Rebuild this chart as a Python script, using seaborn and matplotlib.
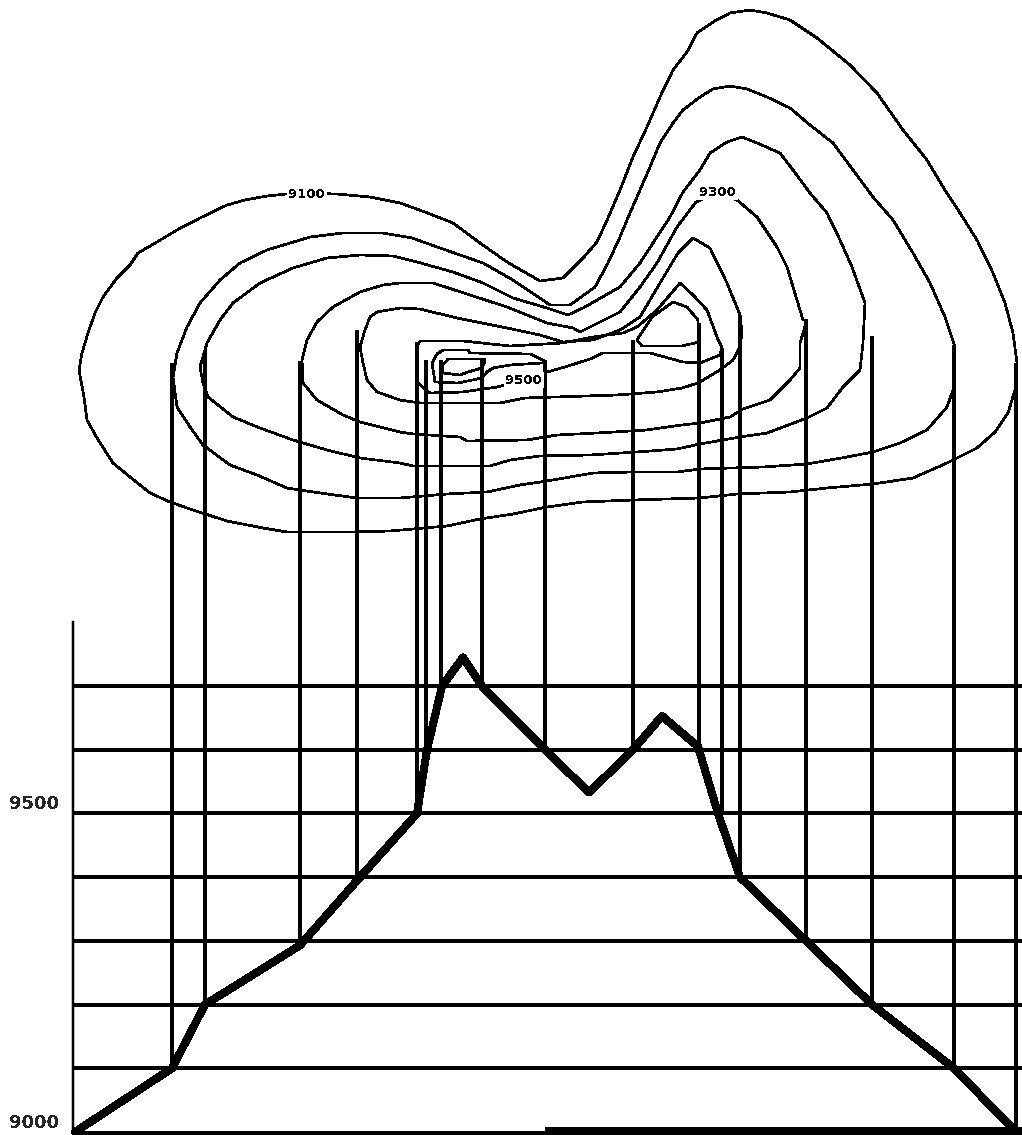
import matplotlib
matplotlib.use("Agg")
import matplotlib.pyplot as plt
import seaborn as sns

# Map-view contours (distance along section, map position)
c9000_x = [296,267,245,227,200,177,157,138,130,117,103,95,88,82,79,84,87,97,113,130,150,170,193,227,263,287,353,390,413,447,480,513,547,583,633,700,737,790,827,873,913,947,977,995,1008,1015,1017,1013,1005,993,977,960,943,927,903,877,850,817,790,767,750,730,713,697,687,673,660,647,633,620,608,597,583,563,540,507,480,453,425,400,370,337,296]
c9000_y = [193,196,200,205,218,230,242,253,265,278,297,313,333,353,370,397,420,438,463,477,493,502,510,521,528,532,532,531,529,526,519,514,507,502,500,498,494,492,488,484,478,463,448,432,413,390,363,333,303,273,240,213,187,160,130,93,65,38,20,13,10,13,22,33,52,70,97,127,157,190,218,242,258,278,281,262,243,223,212,203,197,194,193]
c9100_x = [383,343,310,267,240,220,200,187,177,173,177,190,203,230,257,287,320,357,400,447,487,520,547,593,633,677,700,763,807,847,873,900,927,947,953,955,945,930,913,893,873,853,833,810,790,767,747,730,713,700,683,673,660,650,640,630,620,608,595,577,570,550,547,513,483,440,412,383]
c9100_y = [233,233,237,250,263,280,303,327,353,377,407,427,445,465,475,488,493,498,498,494,492,485,481,473,472,472,469,467,464,457,452,443,430,407,390,347,317,283,253,220,197,170,143,125,108,97,89,86,89,97,110,123,143,167,190,213,237,263,287,300,305,305,303,280,263,248,238,233]
c9200_x = [393,360,327,293,260,233,220,207,200,203,208,233,260,293,327,360,400,413,490,510,540,590,637,677,700,740,767,807,827,843,860,863,865,852,840,827,810,793,780,757,742,727,710,700,683,670,653,640,620,583,568,547,513,483,453,417,393]
c9200_y = [256,255,258,268,283,303,320,343,367,383,397,417,428,440,450,458,463,466,466,460,456,455,452,449,444,437,433,418,408,387,370,343,303,267,240,213,193,170,153,143,137,142,153,170,192,217,243,263,287,308,315,308,298,283,272,262,256]
c9300_x = [400,383,360,333,317,307,302,303,317,343,360,400,413,460,467,527,557,597,647,682,700,730,743,770,790,800,800,807,803,797,787,777,757,737,718,696,677,657,640,620,580,573,547,507,470,433,400]
c9300_y = [283,285,292,307,322,340,360,383,400,415,422,432,434,437,441,440,435,433,430,425,423,417,409,400,380,368,343,320,320,300,267,247,217,200,192,202,227,263,287,312,332,328,323,307,295,283,283]
c9400_x = [400,377,370,365,360,363,367,377,400,420,500,525,617,657,682,698,720,733,740,742,740,727,710,693,678,660,640,620,593,563,540,507,457,420,400]
c9400_y = [308,312,317,330,347,363,380,392,400,403,403,398,395,392,388,383,370,360,347,333,315,283,248,238,253,283,317,330,340,342,335,328,318,309,308]
c9500_x = [418,420,463,510,562,593,623,637,657,680,693,707,717,722,720,700,683,650,603,590,565,547,524,497,463,430,418,417,418]
c9500_y = [345,341,341,346,343,337,333,327,310,283,295,310,337,348,355,363,362,353,353,359,367,372,380,387,392,393,383,360,345]
c9600a_x = [432,437,443,468,470,530,543,545,542,510,493,487,482,458,435,432]
c9600a_y = [363,354,350,350,353,354,360,363,363,365,368,372,378,383,382,363]
c9600b_x = [673,687,698,699,682,642,637,652,673]
c9600b_y = [302,307,320,342,346,346,340,317,302]
c9700_x = [442,448,485,485,482,468,460,443,442]
c9700_y = [366,359,359,362,368,372,375,373,366]
contours = [(c9000_x,c9000_y),(c9100_x,c9100_y),(c9200_x,c9200_y),(c9300_x,c9300_y),
            (c9400_x,c9400_y),(c9500_x,c9500_y),(c9600a_x,c9600a_y),(c9600b_x,c9600b_y),(c9700_x,c9700_y)]

# Construction lines: position, top on the map, elevation reached on the profile
drop_x    = [172,205,300,357,417,426,441,482,545,633,699,722,740,806,872,954,1016]
drop_top  = [363,350,361,330,342,360,360,360,360,340,323,348,315,320,336,345,363]
drop_elev = [9100,9200,9300,9400,9500,9600,9700,9700,9600,9600,9600,9500,9400,9300,9200,9100,9000]

# Profile
profile_x = [75,172,205,300,360,417,427,442,463,482,545,589,633,662,698,718,740,806,872,954,1016]
profile_z = [9000,9100,9200,9293,9400,9500,9600,9700,9745,9700,9600,9533,9600,9653,9605,9500,9400,9300,9200,9100,9000]

grid_levels = [9100,9200,9300,9400,9500,9600,9700]
tick_levels = [9000,9500]
tick_names  = ["9000","9500"]
contour_labels = ["9100","9300","9500"]
contour_label_x = [307,718,524]
contour_label_y = [194,192,380]

PX = 0.72
W, H = 1022, 1135
BASE_PX, PX_PER_UNIT, TOP_PX = 1132, 0.637, 622

sns.set_style("white")
plt.rcParams['text.antialiased'] = False
plt.rcParams['font.family'] = ['DejaVu Sans']

fig = plt.figure(figsize=(W/100, H/100), dpi=100, facecolor="white")
ax_map = fig.add_axes([0,0,1,1])
ax_map.set_xlim(0,W); ax_map.set_ylim(H,0); ax_map.axis("off")

ax = fig.add_axes([73/W,(H-BASE_PX)/H,(W-73)/W,(BASE_PX-TOP_PX)/H])
ax.patch.set_alpha(0)
ax.set_xlim(73,W)
ax.set_ylim(9000,9000+(BASE_PX-TOP_PX)/PX_PER_UNIT)
for s in ["top","right","bottom"]:
    ax.spines[s].set_visible(False)
ax.spines["left"].set_linewidth(2.5*PX)
ax.spines["left"].set_color("black")

for cx, cy in contours:
    sns.lineplot(x=cx, y=cy, ax=ax_map, sort=False, estimator=None, color="black",
                 linewidth=1.7*PX, antialiased=False)

def elev_to_map(z):
    return BASE_PX - PX_PER_UNIT*(z-9000)

ax_map.vlines(drop_x, drop_top, [elev_to_map(z) for z in drop_elev], color="black",
              linewidth=2.5*PX, antialiased=False)

ax.hlines(grid_levels, 73, W, color="black", linewidth=2.5*PX, antialiased=False)
ax_map.hlines([1133], 73, W, color="black", linewidth=4*PX, antialiased=False)
ax_map.hlines([1131], 545, W, color="black", linewidth=8*PX, antialiased=False)

sns.lineplot(x=profile_x, y=profile_z, ax=ax, sort=False, estimator=None, color="black",
             linewidth=7*PX, antialiased=False, clip_on=False)

ax.set_xlabel(""); ax.set_ylabel("")
ax.set_xticks([])
ax.set_yticks(tick_levels, tick_names)
ax.tick_params(axis="y", length=0, pad=10, labelsize=13)
for lab in ax.get_yticklabels():
    lab.set_va("bottom")
    lab.set_fontweight("bold")

for t, lx, ly in zip(contour_labels, contour_label_x, contour_label_y):
    ax_map.text(lx, ly, t, ha="center", va="center", fontsize=9.5, fontweight="bold",
                color="black", bbox=dict(facecolor="white", edgecolor="none", pad=1.0), zorder=5)

fig.savefig("out.png", dpi=100, facecolor="white")
